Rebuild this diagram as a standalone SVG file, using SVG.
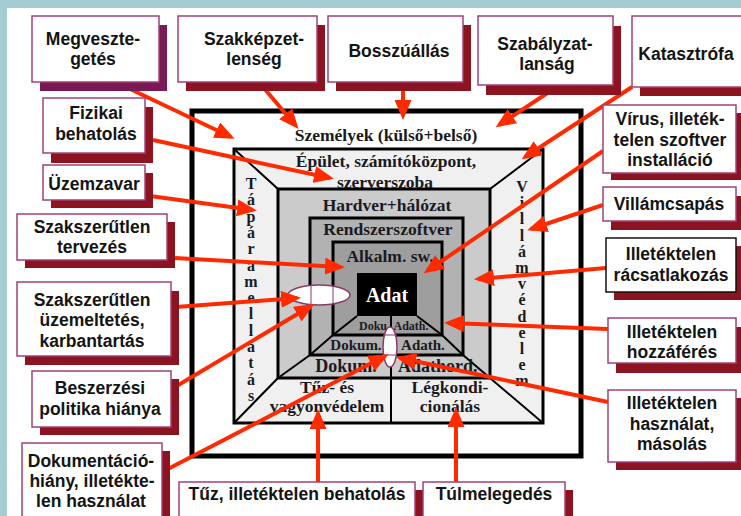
<svg xmlns="http://www.w3.org/2000/svg" width="741" height="516" viewBox="0 0 741 516">
<defs>
<style>
.bx{fill:#fff;stroke:#a0427a;stroke-width:1.5}
.sh{fill:#8c1420}
.t{font-family:"Liberation Sans",Arial,sans-serif;font-weight:bold;font-size:17.5px;fill:#141414;text-anchor:middle}
.s{font-family:"Liberation Serif","Times New Roman",serif;font-weight:bold;fill:#1a1a22;text-anchor:middle}
.ln{stroke:#000;fill:none}
.ar{stroke:#ff2a00;stroke-width:4;fill:none;marker-end:url(#ah)}
</style>
<marker id="ah" markerUnits="userSpaceOnUse" markerWidth="20" markerHeight="17" refX="16" refY="8.5" orient="auto">
<path d="M0,0 L20,8.5 L0,17 z" fill="#ff2a00"/>
</marker>
</defs>
<rect width="741" height="516" fill="#fff"/>
<rect x="0" y="0" width="741" height="8" fill="#a3ccd3"/>
<rect x="0" y="0" width="7" height="516" fill="#a3ccd3"/>

<g id="diagram">
<rect x="192" y="111" width="389" height="345" fill="#fff" stroke="#000" stroke-width="5"/>
<rect x="234" y="149" width="309" height="274" fill="#f0f0f0" stroke="#000" stroke-width="3"/>
<rect x="278" y="189" width="212" height="189" fill="#cbcbcb" stroke="#000" stroke-width="3"/>
<rect x="310" y="218" width="153" height="137" fill="#b2b2b2" stroke="#000" stroke-width="3"/>
<rect x="333" y="242" width="109" height="93" fill="#9e9e9e" stroke="#000" stroke-width="3"/>
<rect x="357" y="273" width="60" height="43" fill="#000"/>
<g class="ln" stroke-width="2">
<line x1="234" y1="149" x2="278" y2="189"/>
<line x1="543" y1="149" x2="490" y2="189"/>
<line x1="234" y1="423" x2="278" y2="378"/>
<line x1="543" y1="423" x2="490" y2="378"/>
<line x1="278" y1="378" x2="310" y2="355"/>
<line x1="490" y1="378" x2="463" y2="355"/>
<line x1="310" y1="355" x2="333" y2="335"/>
<line x1="463" y1="355" x2="442" y2="335"/>
<line x1="333" y1="335" x2="357" y2="316"/>
<line x1="442" y1="335" x2="417" y2="316"/>
<line x1="391" y1="316" x2="391" y2="423"/>
</g>
<text class="s" x="386" y="141" font-size="17.5">Személyek (külső+belső)</text>
<text class="s" x="386" y="167" font-size="17.5">Épület, számítóközpont,</text>
<text class="s" x="385" y="188" font-size="17.5">szerverszoba</text>
<text class="s" x="387" y="211" font-size="17.5">Hardver+hálózat</text>
<text class="s" x="388" y="235" font-size="17.5">Rendszerszoftver</text>
<text class="s" x="390" y="262" font-size="17.5">Alkalm. sw.</text>
<text class="s" x="387" y="302" font-size="20" style="fill:#fff">Adat</text>
<text class="s" x="373" y="330" font-size="12">Doku</text>
<text class="s" x="411" y="330" font-size="12">Adath.</text>
<text class="s" x="356" y="350" font-size="15">Dokum.</text>
<text class="s" x="423" y="350" font-size="15">Adath.</text>
<text class="s" x="346" y="372" font-size="18">Dokum.</text>
<text class="s" x="398" y="372" font-size="18" style="text-anchor:start">Adathord.</text>
<text class="s" x="327" y="393" font-size="17.5">Tűz- és</text>
<text class="s" x="327" y="412" font-size="17.5">vagyonvédelem</text>
<text class="s" x="450" y="393" font-size="17.5">Légkondi-</text>
<text class="s" x="450" y="412" font-size="17.5">cionálás</text>
<text class="s" font-size="16"><tspan x="251" y="189">T</tspan><tspan x="251" dy="16.3">á</tspan><tspan x="251" dy="16.3">p</tspan><tspan x="251" dy="16.3">á</tspan><tspan x="251" dy="16.3">r</tspan><tspan x="251" dy="16.3">a</tspan><tspan x="251" dy="16.3">m</tspan><tspan x="251" dy="16.3">e</tspan><tspan x="251" dy="16.3">l</tspan><tspan x="251" dy="16.3">l</tspan><tspan x="251" dy="16.3">á</tspan><tspan x="251" dy="16.3">t</tspan><tspan x="251" dy="16.3">á</tspan><tspan x="251" dy="16.3">s</tspan></text>
<text class="s" font-size="16"><tspan x="522" y="192">V</tspan><tspan x="522" dy="16.2">i</tspan><tspan x="522" dy="16.2">l</tspan><tspan x="522" dy="16.2">l</tspan><tspan x="522" dy="16.2">á</tspan><tspan x="522" dy="16.2">m</tspan><tspan x="522" dy="16.2">v</tspan><tspan x="522" dy="16.2">é</tspan><tspan x="522" dy="16.2">d</tspan><tspan x="522" dy="16.2">e</tspan><tspan x="522" dy="16.2">l</tspan><tspan x="522" dy="16.2">e</tspan><tspan x="522" dy="16.2">m</tspan></text>
</g>

<g id="ellipses">
<ellipse cx="319" cy="295" rx="31" ry="10" fill="#fff" stroke="#8a3a6a" stroke-width="1.5"/>
<line x1="311" y1="285" x2="311" y2="305" stroke="#8a3a6a" stroke-width="1"/>
<line x1="333" y1="286" x2="333" y2="304" stroke="#8a3a6a" stroke-width="1"/>
<ellipse cx="390" cy="347" rx="7" ry="20" fill="#fff" stroke="#8a3a6a" stroke-width="1.5"/>
<line x1="383" y1="335" x2="397" y2="335" stroke="#8a3a6a" stroke-width="1"/>
<line x1="383" y1="355" x2="397" y2="355" stroke="#8a3a6a" stroke-width="1"/>
</g>

<g id="connectors">
<line class="ar" x1="128" y1="88" x2="231" y2="137"/>
<line class="ar" x1="263" y1="87" x2="296" y2="126"/>
<line class="ar" x1="403" y1="86" x2="403" y2="116"/>
<line class="ar" x1="552" y1="90" x2="499" y2="125"/>
<line class="ar" x1="632" y1="87" x2="525" y2="157"/>
<line class="ar" x1="153" y1="140" x2="330" y2="178"/>
<line class="ar" x1="150" y1="196" x2="253" y2="210"/>
<line class="ar" x1="175" y1="258" x2="341" y2="267"/>
<line class="ar" x1="176" y1="307" x2="297" y2="298"/>
<line class="ar" x1="175" y1="387" x2="311" y2="306"/>
<line class="ar" x1="166" y1="470" x2="385" y2="356"/>
<line class="ar" x1="603" y1="151" x2="427" y2="271"/>
<line class="ar" x1="603" y1="205" x2="531" y2="229"/>
<line class="ar" x1="606" y1="268" x2="478" y2="279"/>
<line class="ar" x1="608" y1="329" x2="448" y2="323"/>
<line class="ar" x1="608" y1="402" x2="400" y2="358"/>
<line class="ar" x1="318" y1="482" x2="318" y2="413"/>
<line class="ar" x1="456" y1="482" x2="456" y2="411"/>
</g>

<g id="n-megvesztegetes"><rect x="40" y="25" width="127" height="66" fill="#7a1a55"/><rect class="bx" x="32" y="16" width="127" height="66"/><text class="t" x="93" y="45">Megveszte-</text><text class="t" x="93" y="65">getés</text></g>
<g id="n-szakkepzetlenseg"><rect class="sh" x="186" y="25" width="139" height="66"/><rect class="bx" x="178" y="16" width="139" height="66"/><text class="t" x="254" y="45">Szakképzet-</text><text class="t" x="254" y="65">lenség</text></g>
<g id="n-bosszuallas"><rect class="sh" x="336" y="25" width="135" height="66"/><rect class="bx" x="328" y="16" width="135" height="66"/><text class="t" x="399" y="57">Bosszúállás</text></g>
<g id="n-szabalyzatlansag"><rect class="sh" x="486" y="26" width="135" height="69"/><rect class="bx" x="478" y="16" width="135" height="69"/><text class="t" x="545" y="50">Szabályzat-</text><text class="t" x="547" y="70">lanság</text></g>
<g id="n-katasztrofa"><rect class="sh" x="640" y="25" width="115" height="71"/><rect class="bx" x="632" y="16" width="115" height="71"/><text class="t" x="686" y="60">Katasztrófa</text></g>
<g id="n-fizikai"><rect class="sh" x="51" y="107" width="102" height="56"/><rect class="bx" x="43" y="98" width="102" height="55"/><text class="t" x="96" y="119">Fizikai</text><text class="t" x="96" y="140">behatolás</text></g>
<g id="n-uzemzavar"><rect class="sh" x="51" y="173" width="102" height="35"/><rect class="bx" x="43" y="165" width="102" height="35"/><text class="t" x="94" y="190">Üzemzavar</text></g>
<g id="n-szakszerutlen-tervezes"><rect class="sh" x="25" y="222" width="150" height="46"/><rect class="bx" x="17" y="214" width="150" height="46"/><text class="t" x="92" y="233">Szakszerűtlen</text><text class="t" x="92" y="253">tervezés</text></g>
<g id="n-szakszerutlen-uzemeltetes"><rect class="sh" x="25" y="291" width="154" height="74"/><rect class="bx" x="17" y="282" width="154" height="74"/><text class="t" x="92" y="306">Szakszerűtlen</text><text class="t" x="92" y="326">üzemeltetés,</text><text class="t" x="92" y="347">karbantartás</text></g>
<g id="n-beszerzesi"><rect class="sh" x="40" y="379" width="139" height="56"/><rect class="bx" x="32" y="371" width="139" height="56"/><text class="t" x="100" y="394">Beszerzési</text><text class="t" x="100" y="415">politika hiánya</text></g>
<g id="n-dokumentacio"><rect class="sh" x="30" y="451" width="140" height="80"/><rect class="bx" x="22" y="443" width="140" height="80"/><text class="t" x="91" y="467">Dokumentáció-</text><text class="t" x="92" y="487">hiány, illetékte-</text><text class="t" x="91" y="507">len használat</text></g>
<g id="n-virus"><rect class="sh" x="611" y="113" width="133" height="67"/><rect class="bx" x="603" y="105" width="133" height="68"/><text class="t" x="670" y="125">Vírus, illeték-</text><text class="t" x="670" y="146">telen szoftver</text><text class="t" x="670" y="166">installáció</text></g>
<g id="n-villamcsapas"><rect class="sh" x="611" y="196" width="133" height="34"/><rect class="bx" x="603" y="187" width="133" height="34"/><text class="t" x="669" y="210">Villámcsapás</text></g>
<g id="n-racsatlakozas"><rect class="sh" x="614" y="246" width="130" height="54"/><rect class="bx" x="606" y="238" width="130" height="54" style="stroke:#111"/><text class="t" x="671" y="260">Illetéktelen</text><text class="t" x="671" y="281">rácsatlakozás</text></g>
<g id="n-hozzaferes"><rect class="sh" x="616" y="327" width="128" height="46"/><rect class="bx" x="608" y="318" width="128" height="45"/><text class="t" x="672" y="338">Illetéktelen</text><text class="t" x="672" y="358">hozzáférés</text></g>
<g id="n-hasznalat"><rect class="sh" x="616" y="398" width="128" height="72"/><rect class="bx" x="608" y="390" width="128" height="72"/><text class="t" x="672" y="409">Illetéktelen</text><text class="t" x="672" y="430">használat,</text><text class="t" x="672" y="450">másolás</text></g>
<g id="n-tuz"><rect class="sh" x="187" y="490" width="236" height="40"/><rect class="bx" x="179" y="482" width="236" height="40"/><text class="t" x="297" y="500">Tűz, illetéktelen behatolás</text></g>
<g id="n-tulmelegedes"><rect class="sh" x="431" y="490" width="142" height="40"/><rect class="bx" x="423" y="482" width="142" height="40"/><text class="t" x="494" y="500">Túlmelegedés</text></g>
</svg>
